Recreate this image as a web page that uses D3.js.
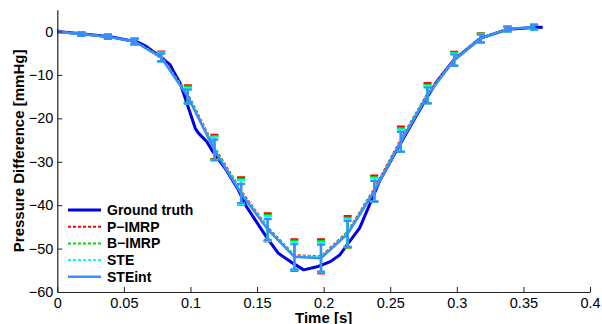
<!DOCTYPE html>
<html>
<head>
<meta charset="utf-8">
<script src="https://cdn.jsdelivr.net/npm/d3@7"></script>
<style>
body { margin: 0; background: #fff; }
text { font-family: "Liberation Sans", Arial, sans-serif; }
</style>
</head>
<body>
<div id="chart"></div>
<script>
// sample times of the estimators
const times = [-0.002, 0.018, 0.038, 0.058, 0.078, 0.098, 0.118, 0.138, 0.158, 0.178,
               0.198, 0.218, 0.238, 0.258, 0.278, 0.298, 0.318, 0.338, 0.358];

// ground truth (finer sampling)
const gtTimes = [0, 0.02, 0.04, 0.06, 0.067, 0.0774, 0.0848, 0.0873, 0.0923, 0.0948, 0.0998,
                 0.1036, 0.106, 0.1123, 0.116, 0.126, 0.136, 0.142, 0.152, 0.157, 0.166, 0.175,
                 0.185, 0.195, 0.205, 0.212, 0.2174, 0.227, 0.2424, 0.2549, 0.265, 0.275, 0.285,
                 0.2976, 0.3176, 0.3378, 0.3578, 0.3645];
const gtValues = [0, -0.6, -1.2, -2.4, -3.5, -5.8, -7.7, -9.2, -11.9, -14.2, -18.8,
                  -22.3, -23.4, -25.4, -27.3, -31.5, -36.5, -40.3, -45.0, -47.3, -51.1, -53.0,
                  -54.9, -54.2, -53.0, -51.5, -49.2, -45.3, -34.2, -27.3, -21.9, -16.5, -11.5,
                  -6.6, -1.6, 0.5, 0.9, 1.0];

const pimrpMean = [0, -0.6, -1.2, -2.3, -5.7, -14.4, -26.6, -36.7, -45.1, -51.5, -51.8, -46.1, -36.2, -24.8, -14.2, -6.3, -1.5, 0.6, 1.0];
const pimrpSd   = [0.3, 0.4, 0.5, 0.7, 1.1, 2.0, 2.8, 3.1, 3.2, 3.6, 3.9, 3.6, 3.0, 2.9, 2.3, 1.6, 1.1, 0.6, 0.6];
const bimrpMean = [0, -0.6, -1.2, -2.3, -5.8, -14.6, -26.8, -36.9, -45.3, -51.6, -51.9, -46.3, -36.4, -25.0, -14.4, -6.4, -1.5, 0.6, 1.0];
const bimrpSd   = [0.3, 0.4, 0.5, 0.7, 1.0, 1.9, 2.7, 2.9, 3.0, 3.4, 3.6, 3.4, 2.8, 2.7, 2.1, 1.5, 1.0, 0.6, 0.6];
const steMean   = [0, -0.6, -1.2, -2.3, -5.9, -14.8, -27.0, -37.0, -45.4, -51.7, -52.0, -46.4, -36.5, -25.1, -14.5, -6.5, -1.6, 0.6, 1.0];
const steSd     = [0.3, 0.4, 0.5, 0.7, 1.0, 1.8, 2.6, 2.7, 2.8, 3.2, 3.4, 3.2, 2.7, 2.5, 2.0, 1.4, 1.0, 0.6, 0.6];
const steintMean = [0, -0.6, -1.2, -2.3, -6.0, -15.0, -27.3, -37.3, -45.6, -51.9, -52.2, -46.6, -36.8, -25.4, -14.7, -6.6, -1.6, 0.6, 1.0];
const steintSd   = [0.3, 0.4, 0.5, 0.6, 0.9, 1.6, 2.4, 2.2, 2.4, 2.9, 3.1, 3.0, 2.4, 2.3, 1.8, 1.3, 0.9, 0.5, 0.5];

const xTicks = [0, 0.05, 0.1, 0.15, 0.2, 0.25, 0.3, 0.35, 0.4];
const yTicks = [0, -10, -20, -30, -40, -50, -60];

const width = 602, height = 324;
const svg = d3.select("#chart").append("svg")
    .attr("width", width)
    .attr("height", height);

const x = d3.scaleLinear().domain([0, 0.4]).range([57.3, 590]);
const y = d3.scaleLinear().domain([-60, 5]).range([292, 9.8]);

svg.append("clipPath").attr("id", "plotclip")
    .append("rect")
    .attr("x", x(0)).attr("y", y(5))
    .attr("width", x(0.4) - x(0)).attr("height", y(-60) - y(5));

const plot = svg.append("g").attr("clip-path", "url(#plotclip)");

const line = d3.line().x(d => x(d[0])).y(d => y(d[1]));

// ground truth
plot.append("path")
    .datum(gtTimes.map((t, i) => [t, gtValues[i]]))
    .attr("d", line)
    .attr("fill", "none")
    .attr("stroke", "#0000e6")
    .attr("stroke-width", 3)
    .attr("stroke-linejoin", "round");

const series = [
    { name: "P\u2212IMRP", mean: pimrpMean, sd: pimrpSd, color: "#ff0000", dash: "3,2", w: 2 },
    { name: "B\u2212IMRP", mean: bimrpMean, sd: bimrpSd, color: "#00dd00", dash: "3,2", w: 2 },
    { name: "STE", mean: steMean, sd: steSd, color: "#00ffff", dash: "3,2", w: 2 },
    { name: "STEint", mean: steintMean, sd: steintSd, color: "#3a8cff", dash: null, w: 2.5 }
];

const capW = 4;
series.forEach(s => {
    const g = plot.append("g");
    g.append("path")
        .datum(times.map((t, i) => [t, s.mean[i]]))
        .attr("d", line)
        .attr("fill", "none")
        .attr("stroke", s.color)
        .attr("stroke-width", s.w)
        .attr("stroke-dasharray", s.dash);

    // error bars
    const bars = g.selectAll("g.eb")
        .data(times.map((t, i) => ({ t: t, lo: s.mean[i] - s.sd[i], hi: s.mean[i] + s.sd[i] })))
        .enter().append("g").attr("class", "eb")
        .attr("stroke", s.color)
        .attr("stroke-width", 2.2);
    bars.append("line")
        .attr("x1", d => x(d.t)).attr("x2", d => x(d.t))
        .attr("y1", d => y(d.lo)).attr("y2", d => y(d.hi));
    bars.append("line")
        .attr("x1", d => x(d.t) - capW).attr("x2", d => x(d.t) + capW)
        .attr("y1", d => y(d.hi)).attr("y2", d => y(d.hi));
    bars.append("line")
        .attr("x1", d => x(d.t) - capW).attr("x2", d => x(d.t) + capW)
        .attr("y1", d => y(d.lo)).attr("y2", d => y(d.lo));
});

// axes
const xAxis = svg.append("g")
    .attr("transform", `translate(0,${y(-60)})`)
    .call(d3.axisBottom(x).tickValues(xTicks).tickFormat(d3.format("")).tickSizeInner(-5).tickSizeOuter(0).tickPadding(6));
const yAxis = svg.append("g")
    .attr("transform", `translate(${x(0)},0)`)
    .call(d3.axisLeft(y).tickValues(yTicks).tickSizeInner(-5).tickSizeOuter(0).tickPadding(4));

[xAxis, yAxis].forEach(a => {
    a.select(".domain").attr("stroke", "#222").attr("stroke-width", 1.2);
    a.selectAll(".tick line").attr("stroke", "#222");
    a.selectAll(".tick text").attr("font-size", 14.5).attr("fill", "#000")
        .attr("font-family", "'Liberation Sans', Arial, sans-serif");
});
xAxis.selectAll(".tick text").attr("dy", "0.71em");

svg.append("text")
    .attr("x", (x(0) + x(0.4)) / 2)
    .attr("y", 323)
    .attr("text-anchor", "middle")
    .attr("font-size", 15)
    .attr("font-weight", "bold")
    .text("Time [s]");

svg.append("text")
    .attr("transform", `translate(24,${(y(5) + y(-60)) / 2}) rotate(-90)`)
    .attr("text-anchor", "middle")
    .attr("font-size", 15)
    .attr("font-weight", "bold")
    .text("Pressure Difference [mmHg]");

// legend
const legendItems = [
    { name: "Ground truth", color: "#0000e6", dash: null, w: 3 }
].concat(series);

const legend = svg.append("g");
legendItems.forEach((d, i) => {
    const ly = 210 + i * 16.7;
    legend.append("line")
        .attr("x1", 68).attr("x2", 101)
        .attr("y1", ly).attr("y2", ly)
        .attr("stroke", d.color)
        .attr("stroke-width", d.w)
        .attr("stroke-dasharray", d.dash);
    legend.append("text")
        .attr("x", 107).attr("y", ly + 5)
        .attr("font-size", 14)
        .attr("font-weight", "bold")
        .text(d.name);
});
</script>
</body>
</html>
